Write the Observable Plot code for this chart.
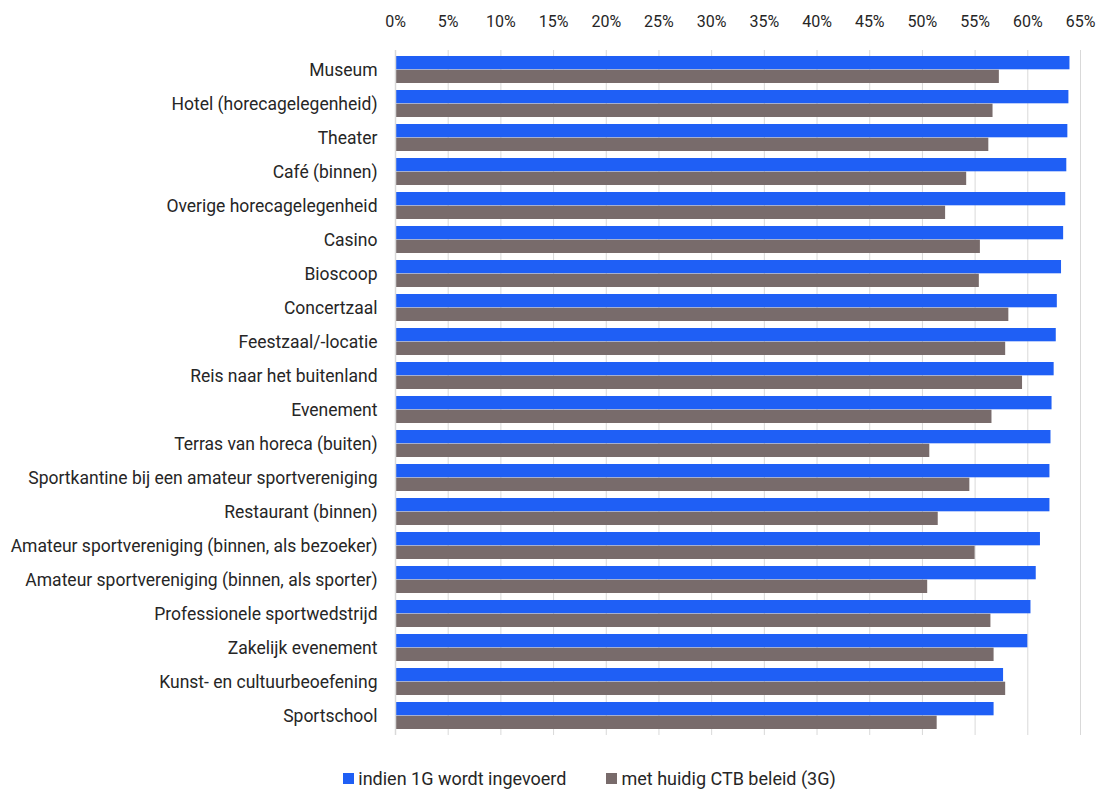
<!DOCTYPE html>
<html>
<head>
<meta charset="utf-8">
<script src="https://cdn.jsdelivr.net/npm/d3@7"></script>
<script src="https://cdn.jsdelivr.net/npm/@observablehq/plot@0.6"></script>
<style>
  html, body { margin: 0; padding: 0; background: #fff; }
  body { width: 1101px; height: 796px; overflow: hidden; font-family: Roboto, sans-serif; }
  #legend { display: flex; justify-content: center; align-items: center; gap: 40px; font-size: 18px; color: #262626; height: 32px; padding-top: 4px; padding-left: 78px; }
  .item { display: flex; align-items: center; gap: 4px; }
  .sw { width: 11px; height: 11px; display: inline-block; }
  svg g[aria-label="y-axis tick label"] text { font-size: 17.5px; }
</style>
</head>
<body>
<div id="chart"></div>
<div id="legend"></div>
<script>
const categories = [
  "Museum", "Hotel (horecagelegenheid)", "Theater", "Café (binnen)", "Overige horecagelegenheid",
  "Casino", "Bioscoop", "Concertzaal", "Feestzaal/-locatie", "Reis naar het buitenland",
  "Evenement", "Terras van horeca (buiten)", "Sportkantine bij een amateur sportvereniging",
  "Restaurant (binnen)", "Amateur sportvereniging (binnen, als bezoeker)",
  "Amateur sportvereniging (binnen, als sporter)", "Professionele sportwedstrijd",
  "Zakelijk evenement", "Kunst- en cultuurbeoefening", "Sportschool"
];
const values1G = [64.0, 63.9, 63.8, 63.7, 63.6, 63.4, 63.2, 62.8, 62.7, 62.5, 62.3, 62.2, 62.1, 62.1, 61.2, 60.8, 60.3, 60.0, 57.7, 56.8];
const values3G = [57.3, 56.7, 56.3, 54.2, 52.2, 55.5, 55.4, 58.2, 57.9, 59.5, 56.6, 50.7, 54.5, 51.5, 55.0, 50.5, 56.5, 56.8, 57.9, 51.4];
const seriesNames = ["indien 1G wordt ingevoerd", "met huidig CTB beleid (3G)"];
const xTicks = [0, 5, 10, 15, 20, 25, 30, 35, 40, 45, 50, 55, 60, 65];

const colors = ["#1f5ff5", "#786b6b"];
const W = 1101, H = 758, mt = 50, mb = 23, ml = 395, mr = 21;
const pIn = 0.2, pOut = 0.1;
const step = (H - mt - mb) / (categories.length - pIn + 2 * pOut);
const half = step * (1 - pIn) / 2;

const rows = categories.map((c, i) => ({cat: c, a: values1G[i], b: values3G[i]}));

const chart = Plot.plot({
  width: W, height: H,
  marginTop: mt, marginBottom: mb, marginLeft: ml, marginRight: mr,
  style: {fontFamily: 'Roboto, sans-serif', fontSize: "16px", color: "#262626", background: "#fff"},
  x: {domain: [0, 65], axis: "top", ticks: xTicks, tickFormat: d => d + "%", tickSize: 0, tickPadding: 24, label: null},
  y: {domain: categories, paddingInner: pIn, paddingOuter: pOut, tickSize: 0, tickPadding: 18, label: null},
  marks: [
    Plot.ruleX(xTicks.slice(1), {stroke: "#d9d9d9", strokeWidth: 1}),
    Plot.barX(rows, {y: "cat", x: "a", fill: colors[0], insetBottom: half, insetTop: 0}),
    Plot.barX(rows, {y: "cat", x: "b", fill: colors[1], insetTop: half, insetBottom: 0}),
    Plot.ruleX([0], {stroke: "#d9d9d9", strokeWidth: 1.5})
  ]
});
document.getElementById("chart").appendChild(chart);

const leg = document.getElementById("legend");
seriesNames.forEach((n, i) => {
  const it = document.createElement("div");
  it.className = "item";
  it.innerHTML = `<span class="sw" style="background:${colors[i]}"></span><span>${n}</span>`;
  leg.appendChild(it);
});
</script>
</body>
</html>
